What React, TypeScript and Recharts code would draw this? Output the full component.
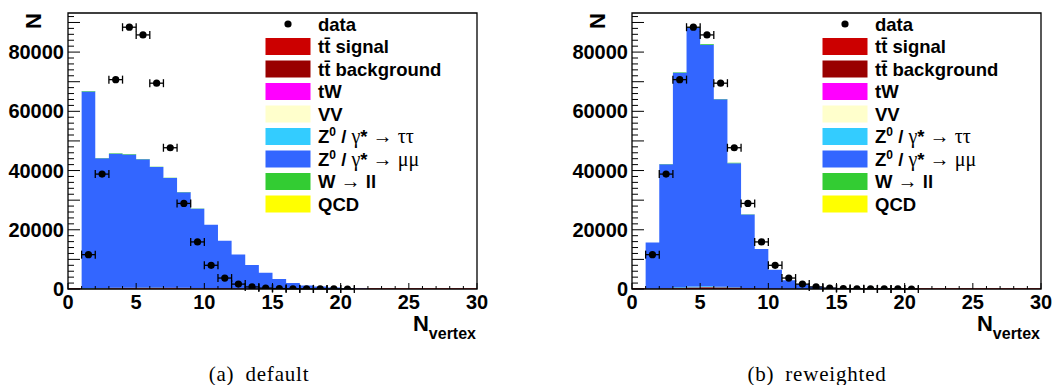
import React from "react";
import {
  Area,
  ComposedChart,
  ErrorBar,
  Legend,
  ReferenceArea,
  Scatter,
  XAxis,
  YAxis,
} from "recharts";

const SANS = "'Liberation Sans', Arial, Helvetica, sans-serif";
const SERIF = "'Liberation Serif', 'Times New Roman', serif";

const X_MAX = 30;
const Y_MAX = 93200;

// tick labels
const xLabels = [0, 5, 10, 15, 20, 25, 30];
const yLabels = [0, 20000, 40000, 60000, 80000];
const xTicks = Array.from({ length: X_MAX + 1 }, (_, i) => i);
const yTicks = Array.from({ length: 47 }, (_, i) => i * 2000);

// data points, bin centres 1.5 .. 20.5 (same in both panels)
const dataX = [1.5, 2.5, 3.5, 4.5, 5.5, 6.5, 7.5, 8.5, 9.5, 10.5, 11.5, 12.5, 13.5, 14.5, 15.5, 16.5, 17.5, 18.5, 19.5, 20.5];
const dataY = [11600, 38800, 70700, 88400, 85800, 69500, 47700, 28900, 15900, 8000, 3700, 1650, 700, 300, 140, 70, 35, 18, 9, 5];

// MC, bins [1,2) .. [21,22) -- default
const defTtSignal = [40, 90, 150, 200, 230, 240, 230, 210, 180, 150, 120, 90, 65, 45, 30, 20, 12, 8, 5, 3, 2];
const defTtBkg = [5, 10, 15, 20, 22, 22, 20, 18, 15, 12, 10, 8, 6, 4, 3, 2, 1, 1, 0, 0, 0];
const defTW = [4, 8, 12, 15, 16, 16, 15, 13, 11, 9, 7, 5, 4, 3, 2, 1, 1, 0, 0, 0, 0];
const defVV = [30, 40, 45, 45, 44, 40, 36, 30, 25, 20, 15, 11, 8, 5, 3, 2, 1, 1, 0, 0, 0];
const defZtautau = [250, 170, 175, 175, 170, 160, 145, 125, 105, 85, 62, 45, 31, 21, 13, 8, 5, 3, 2, 1, 1];
const defZmumu = [66400, 43800, 45300, 45000, 43300, 40700, 37000, 32300, 26800, 21400, 16050, 11500, 7950, 5400, 3340, 1960, 1180, 790, 490, 295, 147];
const defWll = [150, 110, 110, 110, 105, 100, 90, 80, 65, 52, 40, 28, 20, 13, 8, 5, 3, 2, 1, 1, 0];
const defQCD = [0, 0, 0, 0, 0, 0, 0, 0, 0, 0, 0, 0, 0, 0, 0, 0, 0, 0, 0, 0, 0];

// MC -- reweighted
const rwTtSignal = [10, 80, 220, 380, 430, 390, 300, 200, 120, 60, 30, 15, 7, 3, 2, 1, 0, 0, 0, 0, 0];
const rwTtBkg = [1, 8, 20, 32, 36, 33, 25, 17, 10, 5, 2, 1, 1, 0, 0, 0, 0, 0, 0, 0, 0];
const rwTW = [1, 6, 15, 24, 27, 25, 19, 13, 8, 4, 2, 1, 0, 0, 0, 0, 0, 0, 0, 0, 0];
const rwVV = [8, 40, 70, 85, 80, 62, 41, 24, 13, 6, 3, 1, 1, 0, 0, 0, 0, 0, 0, 0, 0];
const rwZtautau = [60, 160, 280, 340, 320, 250, 165, 98, 52, 25, 12, 6, 3, 1, 1, 0, 0, 0, 0, 0, 0];
const rwZmumu = [15590, 41810, 72420, 87330, 81610, 63290, 41950, 24790, 13270, 6390, 2940, 1570, 785, 395, 197, 99, 50, 30, 20, 10, 5];
const rwWll = [35, 100, 180, 210, 195, 150, 100, 58, 31, 15, 7, 4, 2, 1, 0, 0, 0, 0, 0, 0, 0];
const rwQCD = [0, 0, 0, 0, 0, 0, 0, 0, 0, 0, 0, 0, 0, 0, 0, 0, 0, 0, 0, 0, 0];

// stack order, bottom first (also legend order)
const series = [
  { key: "ttSignal", name: "tt\u0304 signal", color: "#cc0000" },
  { key: "ttBkg", name: "tt\u0304 background", color: "#990000" },
  { key: "tW", name: "tW", color: "#ff00ff" },
  { key: "VV", name: "VV", color: "#ffffcc" },
  { key: "Ztautau", name: "Z^{0} / γ* → ττ", color: "#33ccff" },
  { key: "Zmumu", name: "Z^{0} / γ* → μμ", color: "#3366ff" },
  { key: "Wll", name: "W → ll", color: "#33cc33" },
  { key: "QCD", name: "QCD", color: "#ffff00" },
];

const defaultMC = {
  ttSignal: defTtSignal, ttBkg: defTtBkg, tW: defTW, VV: defVV,
  Ztautau: defZtautau, Zmumu: defZmumu, Wll: defWll, QCD: defQCD,
};
const reweightedMC = {
  ttSignal: rwTtSignal, ttBkg: rwTtBkg, tW: rwTW, VV: rwVV,
  Ztautau: rwZtautau, Zmumu: rwZmumu, Wll: rwWll, QCD: rwQCD,
};

const points = dataX.map((x, i) => ({ x, y: dataY[i], ex: 0.5 }));

function RichLabel({ text }: { text: string }) {
  const parts = text.split(/(\^\{[^}]*\}|[γτμ→]+)/).filter(Boolean);
  let raised = false;
  return (
    <>
      {parts.map((p, i) => {
        if (p.startsWith("^{")) {
          raised = true;
          return (
            <tspan key={i} dy={-7} fontSize={12}>
              {p.slice(2, -1)}
            </tspan>
          );
        }
        const dy = raised ? 7 : undefined;
        raised = false;
        if (/[γτμ→]/.test(p)) {
          return (
            <tspan key={i} dy={dy} fontFamily={SERIF} fontWeight="normal" fontSize={20}>
              {p}
            </tspan>
          );
        }
        return (
          <tspan key={i} dy={dy}>
            {p}
          </tspan>
        );
      })}
    </>
  );
}

function LegendBox() {
  const row = 22.5;
  return (
    <svg width={230} height={212} style={{ display: "block" }}>
      <g fontFamily={SANS} fontWeight="bold" fontSize={18.5} fill="#000">
        <circle cx={28} cy={12} r={3.6} fill="#000" />
        <text x={58} y={18.5}>data</text>
        {series.map((s, i) => {
          const cy = 12 + row * (i + 1);
          return (
            <g key={s.key}>
              <rect x={6} y={cy - 8} width={44} height={16} fill={s.color} stroke={s.color} />
              <text x={58} y={cy + 6.5}>
                <RichLabel text={s.name} />
              </text>
            </g>
          );
        })}
      </g>
    </svg>
  );
}

function XTick(props: any) {
  const { x, y, payload } = props;
  const v = payload.value;
  const major = v % 5 === 0;
  return (
    <g>
      <line x1={x} x2={x} y1={y} y2={y - (major ? 6 : 3)} stroke="#000" strokeWidth={1} />
      {xLabels.includes(v) && (
        <text x={x} y={y + 20} textAnchor="middle" fontFamily={SANS} fontWeight="bold" fontSize={20} fill="#000">
          {v}
        </text>
      )}
    </g>
  );
}

function YTick(props: any) {
  const { x, y, payload } = props;
  const v = payload.value;
  const long = v % 10000 === 0;
  return (
    <g>
      <line x1={x} x2={x + (long ? 12 : 6)} y1={y} y2={y} stroke="#000" strokeWidth={1} />
      {yLabels.includes(v) && (
        <text x={x - 4} y={y + 7} textAnchor="end" fontFamily={SANS} fontWeight="bold" fontSize={20} fill="#000">
          {v}
        </text>
      )}
    </g>
  );
}

function YTitle(props: any) {
  const { x, y } = props.viewBox;
  const cx = x + 25;
  const cy = y + 8;
  return (
    <text
      x={cx}
      y={cy}
      textAnchor="middle"
      dominantBaseline="central"
      transform={`rotate(-90 ${cx} ${cy})`}
      fontFamily={SANS}
      fontWeight="bold"
      fontSize={22}
      fill="#000"
    >
      N
    </text>
  );
}

function XTitle(props: any) {
  const { x, y, width } = props.viewBox;
  return (
    <text x={x + width - 1} y={y + 42} textAnchor="end" fontFamily={SANS} fontWeight="bold" fontSize={22} fill="#000">
      N
      <tspan dy={8} fontSize={16}>
        vertex
      </tspan>
    </text>
  );
}

function Panel({ left, legendLeft, mc, caption, captionX }: any) {
  const rows = xTicks.map((x) => {
    const r: any = { x };
    series.forEach((s) => {
      const arr = mc[s.key];
      r[s.key] = x >= 1 && x <= arr.length ? arr[x - 1] : 0;
    });
    return r;
  });

  return (
    <>
      <div style={{ position: "absolute", left, top: 0 }}>
        <ComposedChart
          width={500}
          height={350}
          data={rows}
          margin={{ top: 13, right: 23, bottom: 41, left: 8 }}
          style={{ overflow: "visible" }}
        >
          <XAxis
            dataKey="x"
            type="number"
            domain={[0, X_MAX]}
            ticks={xTicks}
            interval={0}
            allowDataOverflow
            height={20}
            axisLine={false}
            tickLine={false}
            tickSize={0}
            tickMargin={0}
            tick={(p: any) => <XTick {...p} />}
            label={(p: any) => <XTitle {...p} />}
          />
          <YAxis
            type="number"
            domain={[0, Y_MAX]}
            ticks={yTicks}
            interval={0}
            allowDataOverflow
            width={60}
            axisLine={false}
            tickLine={false}
            tickSize={0}
            tickMargin={0}
            tick={(p: any) => <YTick {...p} />}
            label={(p: any) => <YTitle {...p} />}
          />
          {series.map((s) => (
            <Area
              key={s.key}
              dataKey={s.key}
              type="stepAfter"
              stackId="mc"
              fill={s.color}
              fillOpacity={1}
              stroke={s.key === "ttSignal" ? s.color : "none"}
              strokeWidth={1.5}
              dot={false}
              activeDot={false}
              isAnimationActive={false}
            />
          ))}
          <Scatter
            data={points}
            dataKey="y"
            fill="#000"
            isAnimationActive={false}
            shape={(p: any) => <circle cx={p.cx} cy={p.cy} r={3.6} fill="#000" />}
          >
            <ErrorBar dataKey="ex" direction="x" width={4} stroke="#000" strokeWidth={1.3} />
          </Scatter>
          <ReferenceArea
            x1={0}
            x2={X_MAX}
            y1={0}
            y2={Y_MAX}
            fill="none"
            stroke="#000"
            strokeWidth={1.3}
            ifOverflow="visible"
          />
          <Legend
            layout="vertical"
            align="center"
            verticalAlign="middle"
            content={() => <LegendBox />}
            wrapperStyle={{ left: legendLeft, top: 12, width: 230, height: 212 }}
          />
        </ComposedChart>
      </div>
      <div
        style={{
          position: "absolute",
          left: captionX - 150,
          top: 364,
          width: 300,
          textAlign: "center",
          fontFamily: SERIF,
          fontSize: 21,
          lineHeight: "21px",
          letterSpacing: 0.8,
          wordSpacing: 5,
        }}
      >
        {caption}
      </div>
    </>
  );
}

export default function App() {
  return (
    <div
      style={{
        position: "absolute",
        left: 0,
        top: 0,
        width: 1052,
        height: 385,
        background: "#fff",
        overflow: "hidden",
      }}
    >
      <Panel left={0} legendLeft={260} mc={defaultMC} caption="(a) default" captionX={259} />
      <Panel left={564} legendLeft={253} mc={reweightedMC} caption="(b) reweighted" captionX={817} />
    </div>
  );
}
